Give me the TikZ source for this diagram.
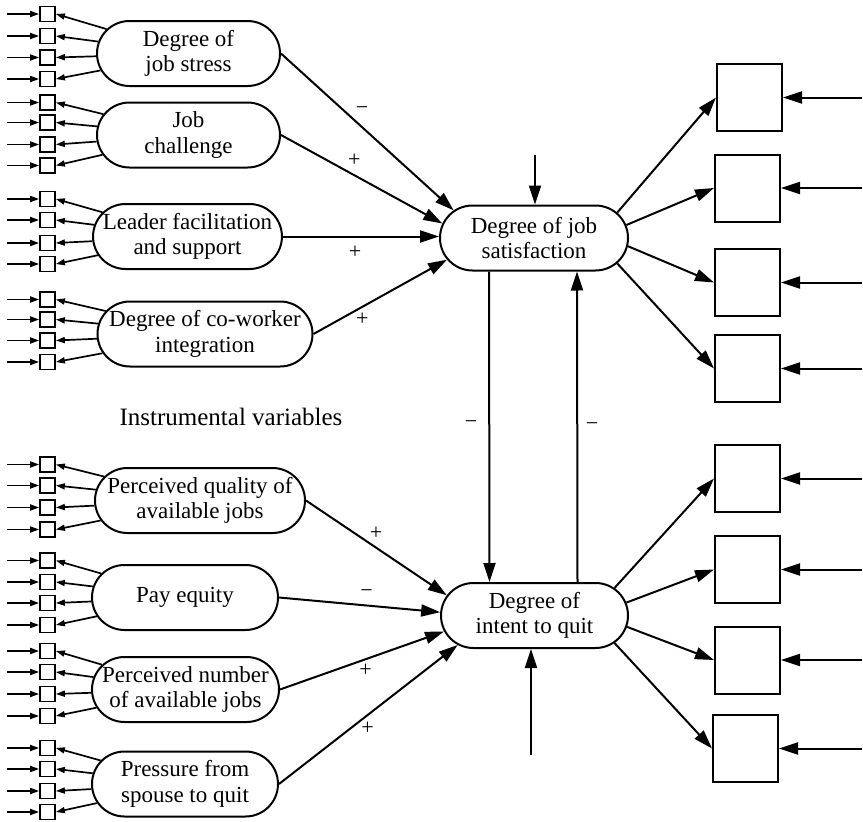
\documentclass[tikz,border=0pt]{standalone}
\usepackage{fontspec}
\setmainfont{Liberation Serif}
\usetikzlibrary{arrows.meta,shapes.misc}
\begin{document}
\begin{tikzpicture}[x=1pt,y=-1pt,
  every node/.style={font=\fontsize{23}{25.5}\selectfont},
  latent/.style={rounded rectangle, draw, line width=2pt, minimum height=65pt,
    align=center, inner sep=0pt},
  ind/.style={draw, line width=1.7pt, minimum size=15pt, inner sep=0pt},
  outbox/.style={draw, line width=2pt, minimum width=65pt, minimum height=67pt, inner sep=0pt},
  link/.style={line width=2pt, -{Triangle[length=19pt,width=12pt]}},
  small/.style={line width=1.7pt, -{Triangle[length=9pt,width=6pt]}},
  sign/.style={font=\fontsize{22}{24}\selectfont, inner sep=0pt},
]
\useasboundingbox (0,0) rectangle (863,822);

% latent variables on the left
\node[latent, minimum width=183pt] (stress)    at (188.5,53.5) {Degree of\\job stress};
\node[latent, minimum width=183pt] (challenge) at (188.5,135)  {Job\\challenge};
\node[latent, minimum width=181pt] (leader)    at (187.5,236.5){Leader facilitation\\and support};
\node[latent, minimum width=215pt] (cowork)    at (205,334)    {Degree of co-worker\\integration};
\node[latent, minimum width=210pt] (quality)   at (200,500.5)  {Perceived quality of\\available jobs};
\node[latent, minimum width=186pt] (pay)       at (185,597.5)  {Pay equity};
\node[latent, minimum width=187pt] (number)    at (185.5,689.5){Perceived number\\of available jobs};
\node[latent, minimum width=186pt] (pressure)  at (185,784)    {Pressure from\\spouse to quit};

% endogenous variables
\node[latent, minimum width=188pt] (sat)  at (534,238)   {Degree of job\\satisfaction};
\node[latent, minimum width=187pt] (quit) at (534.5,615.5) {Degree of\\intent to quit};

\node[font=\fontsize{25}{28}\selectfont] (instr) at (231,417) {Instrumental variables};

% indicators of the exogenous variables
\foreach \g/\ys in {stress/{14,36,57.5,79},
                    challenge/{102.5,122.5,144.5,165.5},
                    leader/{199,220,243,264},
                    cowork/{299.5,319.5,340.5,362},
                    quality/{464.5,485.5,507.5,529.5},
                    pay/{560.5,582,603,625},
                    number/{651,672,694,716},
                    pressure/{748,769,791,812}} {
  \foreach \y [count=\i] in \ys {
    \node[ind] (\g-\i) at (47.5,\y) {};
    \coordinate (\g-e\i) at (7,\y);
    \draw[small] (\g-e\i) -- (\g-\i);
    \draw[small] (\g) -- (\g-\i.east);
  }
}

% structural paths
\draw[link] (stress.east)    -- (sat.161);
\draw[link] (challenge.east) -- (sat.171);
\draw[link] (leader.east)    -- (sat.west |- leader.east);
\draw[link] (cowork.east)    -- (sat.194);
\draw[link] (quality.east)   -- (quit.167);
\draw[link] (pay.east)       -- (quit.178);
\draw[link] (number.east)    -- (quit.190);
\draw[link] (pressure.east)  -- (quit.201);

\draw[link] ([xshift=-45pt]sat.south) -- ([xshift=-45pt]quit.north);
\draw[link] ([xshift=43pt]quit.north) -- ([xshift=43pt]sat.south);

% disturbances
\coordinate (dtop) at (535,155);
\coordinate (dbot) at (531,755);
\draw[link] (dtop) -- (dtop |- sat.north);
\draw[link] (dbot) -- (dbot |- quit.south);

% indicators of the endogenous variables
\foreach \n/\x/\y in {b1/749.5/97.5, b2/747.5/188, b3/747.5/282.5, b4/747.5/368.5,
                      b5/747.5/478.5, b6/747.5/569.5, b7/747.5/660, b8/745.5/748.5} {
  \node[outbox] (\n) at (\x,\y) {};
  \coordinate (\n-e) at (862,\y);
  \draw[link] (\n-e) -- (\n.east);
}
\draw[link] (sat.17)   -- (b1.west);
\draw[link] (sat.8)    -- (b2.west);
\draw[link] (sat.-5)   -- (b3.west);
\draw[link] (sat.-17)  -- (b4.west);
\draw[link] (quit.19)  -- (b5.west);
\draw[link] (quit.8)   -- (b6.west);
\draw[link] (quit.-7)  -- (b7.west);
\draw[link] (quit.-19) -- (b8.west);

% signs of the paths
\node[sign] (s1) at (362,111)   {−};
\node[sign] (s2) at (354.3,160) {+};
\node[sign] (s3) at (355,252)   {+};
\node[sign] (s4) at (362.3,319) {+};
\node[sign] (s5) at (471,425)   {−};
\node[sign] (s6) at (592,427)   {−};
\node[sign] (s7) at (376,533)   {+};
\node[sign] (s8) at (366.7,594) {−};
\node[sign] (s9) at (365.7,670) {+};
\node[sign] (s10) at (367.7,728) {+};
\end{tikzpicture}
\end{document}
